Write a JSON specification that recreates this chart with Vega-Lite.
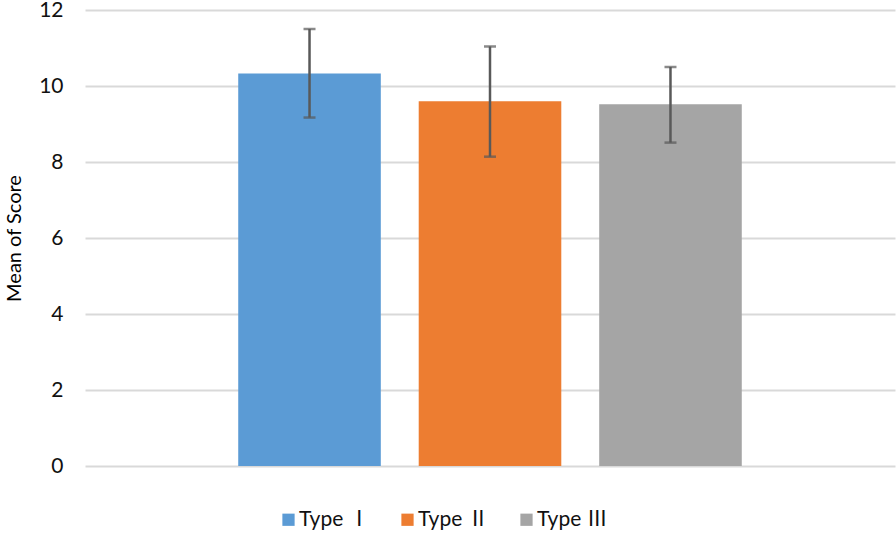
{
  "$schema": "https://vega.github.io/schema/vega-lite/v6.json",
  "autosize": {"type": "none"},
  "width": 810,
  "height": 456,
  "padding": {"left": 85, "top": 10, "right": 1, "bottom": 67},
  "background": "white",
  "config": {"view": {"stroke": null}},
  "data": {
    "values": [
      {"type": "Type Ⅰ", "mean": 10.33, "low": 9.17, "high": 11.5},
      {"type": "Type Ⅱ", "mean": 9.6, "low": 8.14, "high": 11.04},
      {"type": "Type Ⅲ", "mean": 9.52, "low": 8.51, "high": 10.5}
    ]
  },
  "encoding": {
    "x": {
      "field": "type",
      "type": "nominal",
      "sort": null,
      "scale": {"paddingInner": 0.21, "paddingOuter": 0.849},
      "axis": null
    }
  },
  "layer": [
    {
      "mark": {"type": "bar"},
      "encoding": {
        "y": {
          "field": "mean",
          "type": "quantitative",
          "scale": {"domain": [0, 12], "nice": false},
          "axis": {
            "title": "Mean of Score",
            "titleFont": "Lato",
            "titleFontSize": 20,
            "titleFontWeight": "normal",
            "titleColor": "#000000",
            "titlePadding": 14,
            "values": [0, 2, 4, 6, 8, 10, 12],
            "labelFont": "Lato",
            "labelFontSize": 21,
            "labelColor": "#111111",
            "labelPadding": 22,
            "ticks": false,
            "domain": false,
            "grid": true,
            "gridColor": "#D9D9D9",
            "gridWidth": 2
          }
        },
        "color": {
          "field": "type",
          "type": "nominal",
          "sort": null,
          "scale": {"range": ["#5B9BD5", "#ED7D31", "#A5A5A5"]},
          "legend": {
            "title": null,
            "orient": "none",
            "direction": "horizontal",
            "legendX": 193,
            "legendY": 499,
            "symbolType": "square",
            "symbolSize": 150,
            "symbolStrokeWidth": 0,
            "symbolOpacity": 1,
            "labelFont": "Lato, Noto Sans CJK JP",
            "labelFontSize": 21,
            "labelColor": "#111111",
            "labelOffset": 0,
            "columnPadding": 27
          }
        }
      }
    },
    {
      "mark": {"type": "rule", "color": "#595959", "strokeWidth": 2.5},
      "encoding": {
        "y": {"field": "low", "type": "quantitative"},
        "y2": {"field": "high"}
      }
    },
    {
      "mark": {"type": "tick", "color": "#595959", "thickness": 2.5, "size": 12, "orient": "horizontal"},
      "encoding": {
        "y": {"field": "low", "type": "quantitative"}
      }
    },
    {
      "mark": {"type": "tick", "color": "#595959", "thickness": 2.5, "size": 12, "orient": "horizontal"},
      "encoding": {
        "y": {"field": "high", "type": "quantitative"}
      }
    }
  ]
}
